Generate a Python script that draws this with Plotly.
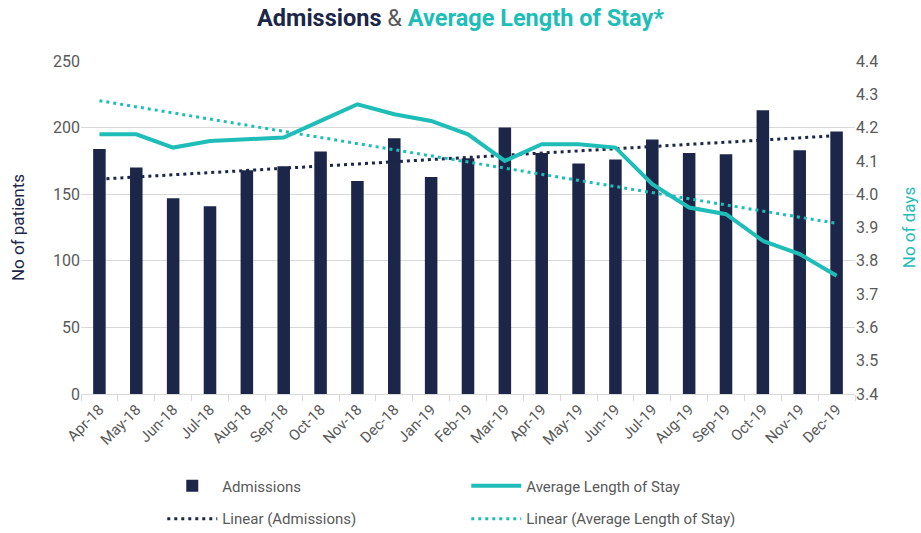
import numpy as np
import plotly.graph_objects as go

months = ["Apr-18", "May-18", "Jun-18", "Jul-18", "Aug-18", "Sep-18", "Oct-18",
          "Nov-18", "Dec-18", "Jan-19", "Feb-19", "Mar-19", "Apr-19", "May-19",
          "Jun-19", "Jul-19", "Aug-19", "Sep-19", "Oct-19", "Nov-19", "Dec-19"]
admissions = [184, 170, 147, 141, 168, 171, 182, 160, 192, 163, 177, 200, 181,
              173, 176, 191, 181, 180, 213, 183, 197]
alos = [4.18, 4.18, 4.14, 4.16, 4.165, 4.17, 4.22, 4.27, 4.24, 4.22, 4.18, 4.10,
        4.15, 4.15, 4.14, 4.03, 3.96, 3.94, 3.86, 3.82, 3.755]
left_ticks = [0, 50, 100, 150, 200, 250]
right_ticks = [3.4, 3.5, 3.6, 3.7, 3.8, 3.9, 4.0, 4.1, 4.2, 4.3, 4.4]

NAVY = "#1B2649"
TEAL = "#1FBDB8"
GRAY = "#595959"
FONT = "Roboto"

# Excel-style linear trendlines (least squares over category index)
idx = np.arange(len(months))
a1, b1 = np.polyfit(idx, admissions, 1)
a2, b2 = np.polyfit(idx, alos, 1)
trend_adm = (a1 * idx + b1).tolist()
trend_alos = (a2 * idx + b2).tolist()

fig = go.Figure()
fig.add_trace(go.Bar(x=months, y=admissions, name="Admissions",
                     marker=dict(color=NAVY, line=dict(width=0)),
                     legend="legend"))
fig.add_trace(go.Scatter(x=months, y=alos, name="Average Length of Stay",
                         mode="lines", yaxis="y2",
                         line=dict(color=TEAL, width=4),
                         legend="legend"))
fig.add_trace(go.Scatter(x=months, y=trend_adm, name="Linear (Admissions)",
                         mode="lines", line=dict(color=NAVY, width=3, dash="3px,4px"),
                         legend="legend2"))
fig.add_trace(go.Scatter(x=months, y=trend_alos, name="Linear (Average Length of Stay)",
                         mode="lines", yaxis="y2",
                         line=dict(color=TEAL, width=3, dash="3px,4px"),
                         legend="legend2"))

title_text = ("<b><span style='color:%s'>Admissions</span></b>"
              "<span style='color:%s'> &amp; </span>"
              "<b><span style='color:%s'>Average Length of Stay*</span></b>") % (NAVY, GRAY, TEAL)

fig.update_layout(
    width=921, height=533,
    margin=dict(l=81, r=66, t=61, b=139, autoexpand=False),
    paper_bgcolor="white", plot_bgcolor="white",
    font=dict(family=FONT, color=GRAY, size=15),
    title=dict(text=title_text, x=0.5, xanchor="center", y=0.966, yanchor="middle",
               font=dict(family=FONT, size=23.5)),
    bargap=0.66,
    showlegend=True,
    xaxis=dict(type="category", tickangle=-45, tickson="boundaries",
               ticks="outside", ticklen=6, tickcolor="#D9D9D9",
               showline=True, linecolor="#D9D9D9", linewidth=1,
               showgrid=False, tickfont=dict(size=15, color=GRAY),
               range=[-0.5, len(months) - 0.5], automargin=False),
    yaxis=dict(range=[0, 250], tickvals=left_ticks, showgrid=True,
               gridcolor="#D9D9D9", gridwidth=1, zeroline=False,
               tickfont=dict(size=16, color=GRAY), ticks="", automargin=False,
               title=dict(text="No of patients", font=dict(size=17, color=NAVY),
                          standoff=24)),
    yaxis2=dict(range=[3.4, 4.4], tickvals=right_ticks, overlaying="y",
                side="right", showgrid=False, zeroline=False, automargin=False,
                tickformat=".1f", tickfont=dict(size=16, color=GRAY),
                title=dict(text="No of days", font=dict(size=17, color=TEAL),
                           standoff=25)),
    legend=dict(orientation="h", x=0.105, xanchor="left", y=-0.276, yanchor="middle",
                entrywidth=239, entrywidthmode="pixels", itemwidth=50,
                font=dict(size=15, color=GRAY), bgcolor="rgba(0,0,0,0)",
                traceorder="normal"),
    legend2=dict(orientation="h", x=0.105, xanchor="left", y=-0.375, yanchor="middle",
                 entrywidth=239, entrywidthmode="pixels", itemwidth=50,
                 font=dict(size=15, color=GRAY), bgcolor="rgba(0,0,0,0)",
                 traceorder="normal"),
)

fig.write_html("out.html", config={"displayModeBar": False},
               post_script="document.body.style.margin='0';document.body.style.padding='0';")
